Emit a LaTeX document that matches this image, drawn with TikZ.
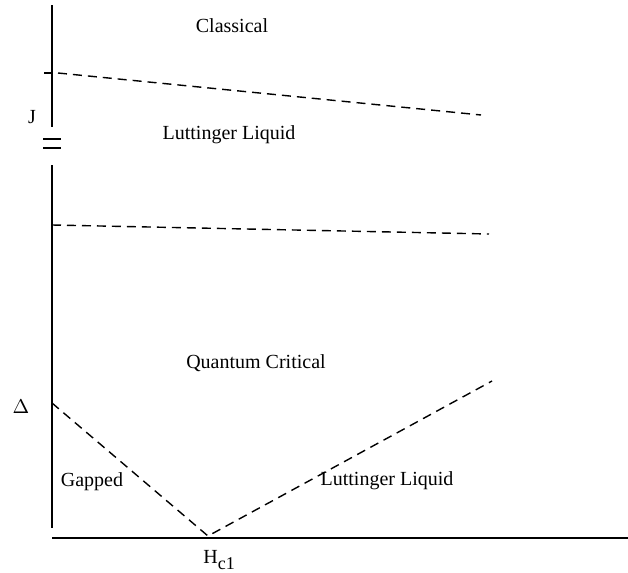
\documentclass[tikz,border=0pt]{standalone}
\usepackage{fontspec}
\setmainfont{Liberation Serif}
\usepackage{amsmath}
\usetikzlibrary{calc,positioning}

\begin{document}
\begin{tikzpicture}[x=0.5pt, y=-0.5pt, every node/.style={font=\fontsize{10}{12}\selectfont, inner sep=0pt}]
\tikzset{axisline/.style={line width=1pt}, boundary/.style={line width=0.7pt, dash pattern=on 4.5pt off 3pt}}
\useasboundingbox (0,0) rectangle (628,573);

% axes
\coordinate (top) at (52,5);
\coordinate (brk1) at (52,127);
\coordinate (brk2) at (52,165);
\coordinate (orig) at (52,528);
\coordinate (xl) at (52,538);
\coordinate (xr) at (628,538);
\draw[axisline] (top) -- (brk1);
\draw[axisline] (brk2) -- (orig);
\draw[axisline] (xl) -- (xr);
\draw[line width=0.6pt] (44,73) -- (52,73);
\foreach \y in {139,148}
{
  \draw[line width=0.8pt] (43,\y) -- (61,\y);
}

% crossover lines
\coordinate (a1) at (58,73);
\coordinate (a2) at (481,115);
\coordinate (b1) at (52,225);
\coordinate (b2) at (489,234);
\coordinate (gap) at (52,403);
\coordinate (hc) at (208,536);
\coordinate (c2) at (492,381);
\draw[boundary] (a1) -- (a2);
\draw[boundary] (b1) -- (b2);
\draw[boundary] (gap) -- (hc) -- (c2);

% labels
\node (classical) at (232,26) {Classical};
\node (ll1) at (229,135) {Luttinger Liquid};
\node (qc) at (256,363) {Quantum Critical};
\node (gapped) at (92,482) {Gapped};
\node (ll2) at (387,481) {Luttinger Liquid};
\node (jlab) at (32,117) {J};
\node (dlab) at (21,407) {$\Delta$};
\node[anchor=base west] (hlab) at (203,563) {H\raisebox{-3pt}{\fontsize{9}{10}\selectfont c1}};
\end{tikzpicture}
\end{document}
